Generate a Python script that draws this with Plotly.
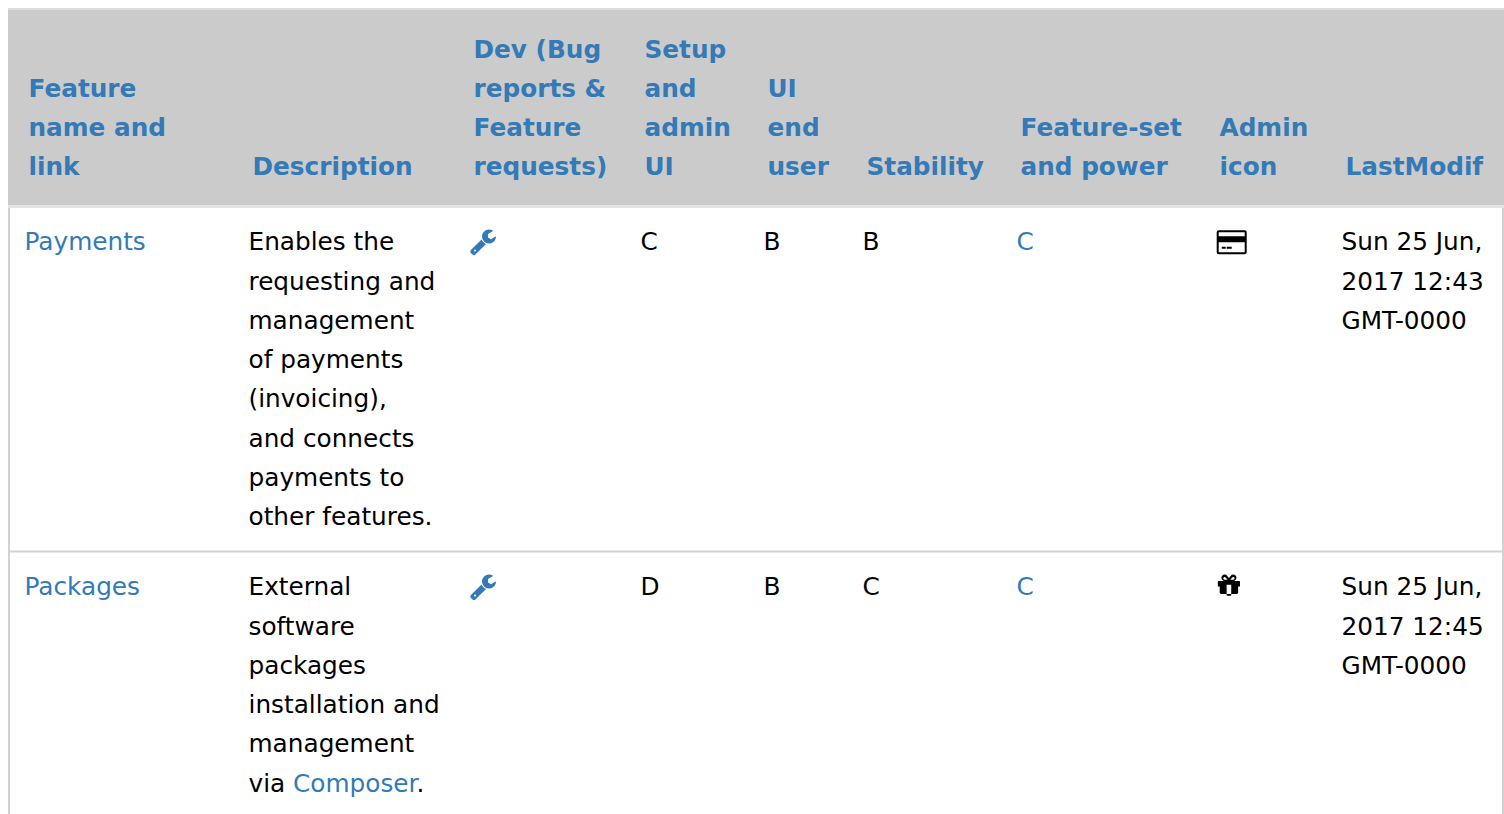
import re
import plotly.graph_objects as go

# ---- table content -------------------------------------------------------
header_labels = [
    ["Feature", "name and", "link"],
    ["Description"],
    ["Dev (Bug", "reports &", "Feature", "requests)"],
    ["Setup", "and", "admin", "UI"],
    ["UI", "end", "user"],
    ["Stability"],
    ["Feature-set", "and power"],
    ["Admin", "icon"],
    ["LastModif"],
]
feature_names = ["Payments", "Packages"]
descriptions = [
    ["Enables the", "requesting and", "management", "of payments", "(invoicing),",
     "and connects", "payments to", "other features."],
    ["External", "software", "packages", "installation and", "management",
     "via <span style='color:#337ab7'>Composer</span>."],
]
setup_grades = ["C", "D"]
ui_grades = ["B", "B"]
stability_grades = ["B", "C"]
power_grades = ["C", "C"]
modified = [
    ["Sun 25 Jun,", "2017 12:43", "GMT-0000"],
    ["Sun 25 Jun,", "2017 12:45", "GMT-0000"],
]
admin_icons = ["card", "gift"]

# ---- layout constants ------------------------------------------------------
W, H = 1504, 814
FONT = "DejaVu Sans"
SIZE = 24.75
LINK = "#337ab7"
INK = "#000000"
LINE_H = 39.25
col_x = [25, 249, 470, 641, 764, 863, 1017, 1216, 1342]
HEADER_INSET = 4
HEADER_LAST_Y = 167
ROW_TOP_Y = [242, 587]
TX, TY = -0.5, 2.2   # calibration of scatter text anchoring


xs, ys, ts = [], [], []
for c, lines in enumerate(header_labels):
    for i, t in enumerate(lines):
        xs.append(col_x[c] + HEADER_INSET + TX)
        ys.append(HEADER_LAST_Y - (len(lines) - 1 - i) * LINE_H + TY)
        ts.append(t)

bx, by, bt, bc = [], [], [], []
def add(col, row, lines, color):
    for i, t in enumerate(lines):
        bx.append(col_x[col] + TX)
        by.append(ROW_TOP_Y[row] + i * LINE_H + TY)
        bt.append(t)
        bc.append(color)

for r in range(len(feature_names)):
    add(0, r, [feature_names[r]], LINK)
    add(1, r, descriptions[r], INK)
    add(3, r, [setup_grades[r]], INK)
    add(4, r, [ui_grades[r]], INK)
    add(5, r, [stability_grades[r]], INK)
    add(6, r, [power_grades[r]], LINK)
    add(8, r, modified[r], INK)

fig = go.Figure()
fig.add_trace(go.Scatter(x=xs, y=ys, text=ts, mode="text", textposition="middle right",
                         textfont=dict(family=FONT, size=SIZE, color=LINK, weight="bold"),
                         hoverinfo="skip", showlegend=False, cliponaxis=False))
fig.add_trace(go.Scatter(x=bx, y=by, text=bt, mode="text", textposition="middle right",
                         textfont=dict(family=FONT, size=SIZE, color=bc),
                         hoverinfo="skip", showlegend=False, cliponaxis=False))

# ---- icon outlines (glyph shapes, in their own units) ----------------------
WRENCH = ("M384 1344q0-26-19-45t-45-19-45 19-19 45 19 45 45 19 45-19 19-45zm644-420l-682 682q-37 37-90 37"
          "-52 0-91-37l-106-108q-38-36-38-90 0-53 38-91l681-681q39 98 114.5 173.5t173.5 114.5zm634-435"
          "q0 39-23 106-47 134-164.5 217.5t-258.5 83.5q-185 0-316.5-131.5t-131.5-316.5 131.5-316.5 316.5-131.5"
          "q58 0 121.5 16.5t107.5 46.5q16 11 16 28t-16 28l-293 169v224l193 107q5-3 79-48.5t135.5-81 70.5-35.5"
          "q15 0 23.5 10t8.5 25z")
GIFT = ("M1056 1356v-716h-320v716q0 25 18 38.5t46 13.5h192q28 0 46-13.5t18-38.5zm-456-1060h195l-126-161"
        "q-26-31-69-31-40 0-68 28t-28 68 28 68 68 28zm688-96q0-40-28-68t-68-28q-43 0-69 31l-125 161h194"
        "q40 0 68-28t28-68zm376 216v320q0 14-9 23t-23 9h-96v416q0 40-28 68t-68 28h-1088q-40 0-68-28t-28-68"
        "v-416h-96q-14 0-23-9t-9-23v-320q0-14 9-23t23-9h440q-93 0-158.5-65.5t-65.5-158.5 65.5-158.5 158.5-65.5"
        "q107 0 168 77l128 165 128-165q61-77 168-77 93 0 158.5 65.5t65.5 158.5-65.5 158.5-158.5 65.5h440"
        "q14 0 23 9t9 23z")
CARD = ("M2 0H28Q30 0 30 2V22Q30 24 28 24H2Q0 24 0 22V2Q0 0 2 0Z"
        "M2 2V6H28V2Z"
        "M2 12V22H28V12Z"
        "M5 16.5H9V18.5H5Z"
        "M10 16.5H15V18.5H10Z")

NP = {"m": 2, "l": 2, "h": 1, "v": 1, "q": 4, "t": 2, "z": 0}
def place(path, ox, oy, scale):
    """Rewrite an outline as absolute commands, scaled and moved to (ox, oy) on the axes."""
    out, cx, cy, sx, sy = [], 0.0, 0.0, 0.0, 0.0
    for cmd, arg in re.findall(r"([MmLlHhVvQqTtZz])([^MmLlHhVvQqTtZz]*)", path):
        lo, rel = cmd.lower(), cmd.islower()
        vals = [float(v) for v in re.findall(r"-?\d*\.?\d+", arg)]
        if lo == "z":
            out.append("Z"); cx, cy = sx, sy; continue
        n = NP[lo]
        for k in range(0, len(vals), n):
            p = vals[k:k + n]
            if lo == "h":
                cx = cx + p[0] if rel else p[0]
                out.append(f"L{ox + cx * scale:.2f},{oy + cy * scale:.2f}"); continue
            if lo == "v":
                cy = cy + p[0] if rel else p[0]
                out.append(f"L{ox + cx * scale:.2f},{oy + cy * scale:.2f}"); continue
            bx0, by0 = (cx, cy) if rel else (0, 0)
            pts = [(bx0 + p[j], by0 + p[j + 1]) for j in range(0, n, 2)]
            c = {"m": "M", "l": "L", "q": "Q", "t": "T"}[lo]
            if lo == "m" and k > 0:
                c = "L"
            out.append(c + " ".join(f"{ox + a * scale:.2f},{oy + b * scale:.2f}" for a, b in pts))
            cx, cy = pts[-1]
            if lo == "m" and k == 0:
                sx, sy = cx, cy
    return "".join(out)

def rect(x0, y0, x1, y1, color):
    return dict(type="rect", xref="x", yref="y", x0=x0, y0=y0, x1=x1, y1=y1,
                fillcolor=color, line=dict(width=0), layer="below")

shapes = [
    rect(8, 8, W, 10, "#dddddd"),
    rect(8, 10, W, 205, "#cbcbcb"),
    rect(8, 205, W, 208, "#e2e4e8"),
    rect(8, 208, 10, H, "#d2d2d2"),
    rect(1502, 208, 1504, H, "#d2d2d2"),
    rect(8, 550.5, W, 552.5, "#d2d2d2"),
]
def icon(path, ox, oy, scale, color):
    return dict(type="path", xref="x", yref="y", path=place(path, ox, oy, scale),
                fillcolor=color, fillrule="evenodd", line=dict(width=0))

ICON_Y = [230, 575]
for r in range(2):
    shapes.append(icon(WRENCH, col_x[2], ICON_Y[r] - 0.5, 26 / 1664, LINK))
shapes.append(icon(CARD, col_x[7] + 0.7, ICON_Y[0] + 0.2, 1.0, INK))
shapes.append(icon(GIFT, col_x[7], ICON_Y[1] + 0.5, 24 / 1664, INK))

fig.update_layout(
    width=W, height=H, margin=dict(l=0, r=0, t=0, b=0),
    paper_bgcolor="#ffffff", plot_bgcolor="#ffffff",
    xaxis=dict(range=[0, W], visible=False, fixedrange=True),
    yaxis=dict(range=[H, 0], visible=False, fixedrange=True),
    shapes=shapes, showlegend=False, hovermode=False,
)
fig.write_html("out.html", config=dict(displayModeBar=False),
               post_script="document.body.style.margin='0';document.documentElement.style.overflow='hidden';")
